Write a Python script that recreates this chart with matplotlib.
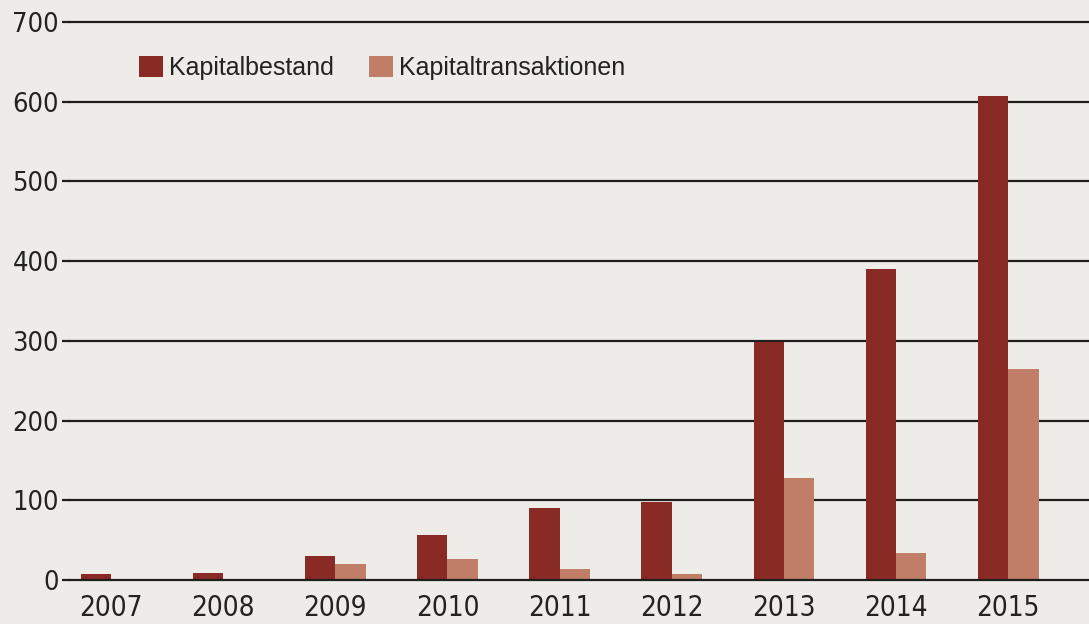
import matplotlib
matplotlib.use("Agg")
import matplotlib.pyplot as plt
from matplotlib import font_manager
import numpy as np

years = ["2007", "2008", "2009", "2010", "2011", "2012", "2013", "2014", "2015"]
kapitalbestand = [8, 9, 30, 57, 90, 98, 298, 390, 607]
kapitaltransaktionen = [1, 1, 20, 26, 14, 8, 128, 34, 265]
yticks = [0, 100, 200, 300, 400, 500, 600, 700]

names = {f.name for f in font_manager.fontManager.ttflist}
fam = "Liberation Sans Narrow" if "Liberation Sans Narrow" in names else "DejaVu Sans"
stretch = "normal" if fam == "Liberation Sans Narrow" else "condensed"
plt.rcParams["font.family"] = [fam, "DejaVu Sans"]
leg_fam = "Liberation Sans" if "Liberation Sans" in names else "DejaVu Sans"

bg = "#EDECE8"
dark = "#8A2A25"
light = "#C07E67"

fig = plt.figure(figsize=(10.89, 6.24), dpi=100, facecolor=bg)
ax = fig.add_axes([70 / 1089, 1 - 580 / 624, 1 - 70 / 1089, (580 - 22) / 624])
ax.set_facecolor(bg)

x = np.arange(len(years))
w = 0.27
ax.bar(x - w / 2, kapitalbestand, width=w, color=dark, label="Kapitalbestand", zorder=3)
ax.bar(x + w / 2, kapitaltransaktionen, width=w, color=light, label="Kapitaltransaktionen", zorder=3)

ax.set_xlim(-0.365, 8.72)
ax.set_ylim(0, 700)
ax.set_yticks(yticks)
ax.set_yticklabels([str(v) for v in yticks], fontsize=19.5, color="#222222", fontstretch=stretch)
for v in yticks:
    ax.axhline(v, color="#1e1e1e", lw=1.6, zorder=2 if v else 4, clip_on=False)
ax.set_xticks(x)
ax.set_xticklabels(years, fontsize=20, color="#222222", fontstretch=stretch)
ax.tick_params(axis="y", length=6, width=1.6, color="#1e1e1e", pad=2)
ax.tick_params(axis="x", length=0, pad=10)
for s in ax.spines.values():
    s.set_visible(False)

leg = ax.legend(loc="upper left", bbox_to_anchor=(0.0454, 0.98), ncol=2, frameon=False,
                handlelength=0.95, handleheight=0.95, handletextpad=0.25,
                columnspacing=1.43, prop={"family": [leg_fam, "DejaVu Sans"], "size": 18})
for t in leg.get_texts():
    t.set_color("#222222")

fig.savefig("out.png", dpi=100, facecolor=bg)
